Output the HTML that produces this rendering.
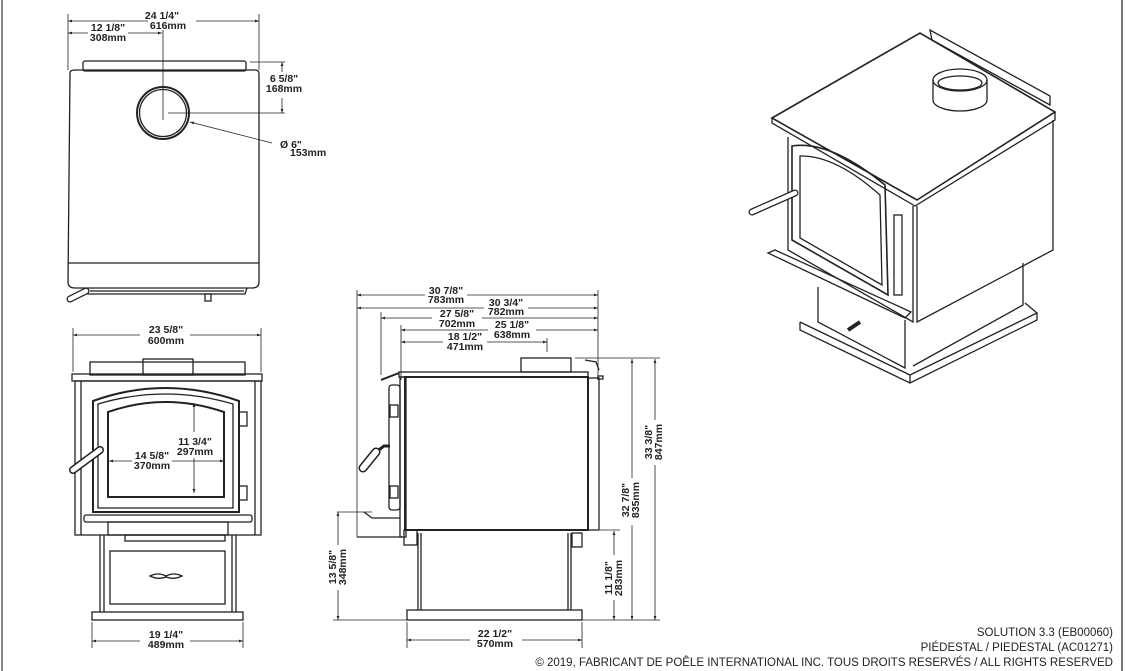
<!DOCTYPE html>
<html><head><meta charset="utf-8"><style>
html,body{margin:0;padding:0;background:#fff;}
svg{display:block}
text{font-family:"Liberation Sans",sans-serif;font-weight:bold;font-size:10.5px;fill:#222;text-anchor:middle}
.t{font-weight:normal;font-size:11.5px;text-anchor:end;fill:#222}
</style></head><body>
<svg width="1125" height="671" viewBox="0 0 1125 671" xmlns="http://www.w3.org/2000/svg">
<defs>
<marker id="a" viewBox="0 0 10 10" refX="10" refY="5" markerWidth="7" markerHeight="5" orient="auto-start-reverse"><path d="M0,1.5L10,5L0,8.5z" fill="#222"/></marker>
</defs>
<rect x="1" y="0" width="2" height="671" fill="#888"/>
<rect x="1121" y="0" width="2" height="671" fill="#777"/>
<g fill="none" stroke="#222" stroke-width="1.3">
<!-- TOP VIEW -->
<line x1="68" y1="14" x2="68" y2="70" stroke-width="0.8"/>
<line x1="259" y1="14" x2="259" y2="70" stroke-width="0.8"/>
<line x1="68" y1="21" x2="148" y2="21" stroke-width="0.8" marker-start="url(#a)"/>
<line x1="196" y1="21" x2="259" y2="21" stroke-width="0.8" marker-end="url(#a)"/>
<line x1="68" y1="33" x2="88" y2="33" stroke-width="0.8" marker-start="url(#a)"/>
<line x1="128" y1="33" x2="162" y2="33" stroke-width="0.8" marker-end="url(#a)"/>
<line x1="163" y1="30" x2="163" y2="120" stroke-width="0.8"/>
<rect x="83" y="61" width="163" height="10" rx="2"/>
<path d="M70,73 Q70,70 75,70 L255,70 Q259,70 259,74 L259,282 Q259,288 252,288 L75,288 Q68,288 68,282 Z"/>
<line x1="68" y1="263" x2="259" y2="263"/>
<path d="M85,288 L88,294 L245,294 L247,288"/>
<line x1="90" y1="291" x2="244" y2="291"/>
<path d="M70,299 L86,291" stroke-width="7" stroke-linecap="round"/>
<path d="M70,299 L86,291" stroke-width="4.5" stroke="#fff" stroke-linecap="round"/>
<rect x="205" y="294" width="6" height="7"/>
<circle cx="163" cy="113" r="26" stroke-width="2"/>
<circle cx="163" cy="113" r="23.5"/>
<line x1="168" y1="113" x2="285" y2="113" stroke-width="0.8"/>
<line x1="250" y1="62" x2="285" y2="62" stroke-width="0.8"/>
<line x1="282" y1="72" x2="282" y2="62" stroke-width="0.8" marker-end="url(#a)"/>
<line x1="282" y1="98" x2="282" y2="113" stroke-width="0.8" marker-end="url(#a)"/>
<line x1="272" y1="143" x2="190" y2="122" stroke-width="0.8" marker-end="url(#a)"/>
<!-- FRONT VIEW -->
<line x1="73" y1="328" x2="73" y2="372" stroke-width="0.8"/>
<line x1="261" y1="328" x2="261" y2="372" stroke-width="0.8"/>
<line x1="73" y1="335" x2="140" y2="335" stroke-width="0.8" marker-start="url(#a)"/>
<line x1="190" y1="335" x2="261" y2="335" stroke-width="0.8" marker-end="url(#a)"/>
<rect x="90" y="362" width="155" height="13"/>
<rect x="143" y="359" width="50" height="16"/>
<rect x="72" y="374" width="190" height="7"/>
<rect x="75" y="381" width="186" height="154"/>
<line x1="81" y1="381" x2="81" y2="535"/><line x1="255" y1="381" x2="255" y2="535"/>
<path d="M93,512 L93,401 Q165,375 239,401 L239,512 Z" stroke-width="2"/>
<path d="M98,508 L98,404 Q165,384 233,404 L233,508 Z"/>
<path d="M108,497 L108,412 Q165,392 224,412 L224,497 Z" stroke-width="2"/>
<rect x="239" y="412" width="8" height="14"/><rect x="239" y="486" width="8" height="14"/>
<path d="M73,470 L100,450" stroke-width="8" stroke-linecap="round"/>
<path d="M73,470 L100,450" stroke-width="5" stroke="#fff" stroke-linecap="round"/>
<rect x="84" y="515" width="168" height="7" rx="2"/>
<rect x="108" y="522" width="120" height="13"/>
<rect x="125" y="535" width="100" height="6"/>
<line x1="100" y1="535" x2="100" y2="612"/><line x1="104" y1="535" x2="104" y2="612"/>
<line x1="232" y1="535" x2="232" y2="612"/><line x1="236" y1="535" x2="236" y2="612"/>
<rect x="110" y="551" width="115" height="53"/>
<path d="M150,576 Q158,572 166,576 Q174,572 182,576 Q174,580 166,577 Q158,580 150,576z"/>
<rect x="92" y="612" width="151" height="8"/>
<line x1="92" y1="622" x2="92" y2="648" stroke-width="0.8"/>
<line x1="243" y1="622" x2="243" y2="648" stroke-width="0.8"/>
<line x1="92" y1="641" x2="140" y2="641" stroke-width="0.8" marker-start="url(#a)"/>
<line x1="190" y1="641" x2="243" y2="641" stroke-width="0.8" marker-end="url(#a)"/>
<line x1="194" y1="403" x2="194" y2="432" stroke-width="0.8" marker-start="url(#a)"/>
<line x1="194" y1="458" x2="194" y2="493" stroke-width="0.8" marker-end="url(#a)"/>
<line x1="109" y1="461" x2="132" y2="461" stroke-width="0.8" marker-start="url(#a)"/>
<line x1="172" y1="461" x2="224" y2="461" stroke-width="0.8" marker-end="url(#a)"/>
<!-- SIDE VIEW -->
<line x1="357" y1="290" x2="357" y2="537" stroke-width="0.8"/>
<line x1="598" y1="290" x2="598" y2="380" stroke-width="0.8"/>
<line x1="381" y1="312" x2="381" y2="375" stroke-width="0.8"/>
<line x1="401" y1="325" x2="401" y2="380" stroke-width="0.8"/>
<line x1="547" y1="338" x2="547" y2="352" stroke-width="0.8"/>
<line x1="357" y1="295" x2="425" y2="295" stroke-width="0.8" marker-start="url(#a)"/>
<line x1="467" y1="295" x2="598" y2="295" stroke-width="0.8" marker-end="url(#a)"/>
<line x1="357" y1="308" x2="484" y2="308" stroke-width="0.8" marker-start="url(#a)"/>
<line x1="528" y1="308" x2="598" y2="308" stroke-width="0.8" marker-end="url(#a)"/>
<line x1="381" y1="318" x2="432" y2="318" stroke-width="0.8" marker-start="url(#a)"/>
<line x1="482" y1="318" x2="598" y2="318" stroke-width="0.8" marker-end="url(#a)"/>
<line x1="401" y1="330" x2="488" y2="330" stroke-width="0.8" marker-start="url(#a)"/>
<line x1="536" y1="330" x2="598" y2="330" stroke-width="0.8" marker-end="url(#a)"/>
<line x1="401" y1="342" x2="443" y2="342" stroke-width="0.8" marker-start="url(#a)"/>
<line x1="487" y1="342" x2="547" y2="342" stroke-width="0.8" marker-end="url(#a)"/>
<rect x="521" y="358" width="50" height="14"/>
<path d="M585,360 L596,362 L599,370"/>
<rect x="399" y="372" width="189" height="5"/>
<path d="M381,380 L399,373" stroke-width="2"/>
<rect x="405" y="377" width="183" height="153" stroke-width="2"/>
<rect x="588" y="378" width="11" height="152"/>
<rect x="598" y="376" width="5" height="3"/>
<rect x="400" y="377" width="6" height="160"/>
<rect x="389" y="385" width="11" height="125" rx="3"/>
<rect x="390" y="405" width="8" height="12"/><rect x="390" y="486" width="8" height="12"/>
<path d="M376,452 L384,446 L390,446" stroke-width="3"/>
<path d="M363,468 L376,452" stroke-width="9" stroke-linecap="round"/>
<path d="M363,468 L376,452" stroke-width="6" stroke="#fff" stroke-linecap="round"/>
<path d="M364,512 L372,518 L400,518" />
<line x1="357" y1="537" x2="402" y2="537"/>
<rect x="404" y="530" width="13" height="15"/>
<line x1="418" y1="533" x2="418" y2="610"/><line x1="421" y1="533" x2="421" y2="610"/>
<line x1="568" y1="533" x2="568" y2="610"/><line x1="571" y1="533" x2="571" y2="610"/>
<rect x="572" y="533" width="10" height="14"/>
<rect x="407" y="610" width="175" height="10"/>
<line x1="337" y1="512" x2="372" y2="512" stroke-width="0.8"/>
<line x1="333" y1="620" x2="407" y2="620" stroke-width="0.8"/>
<line x1="338" y1="512" x2="338" y2="545" stroke-width="0.8" marker-start="url(#a)"/>
<line x1="338" y1="590" x2="338" y2="620" stroke-width="0.8" marker-end="url(#a)"/>
<line x1="582" y1="620" x2="660" y2="620" stroke-width="0.8"/>
<line x1="600" y1="530" x2="620" y2="530" stroke-width="0.8"/>
<line x1="575" y1="358" x2="660" y2="358" stroke-width="0.8"/>
<line x1="614" y1="531" x2="614" y2="555" stroke-width="0.8" marker-start="url(#a)"/>
<line x1="614" y1="600" x2="614" y2="620" stroke-width="0.8" marker-end="url(#a)"/>
<line x1="632" y1="359" x2="632" y2="478" stroke-width="0.8" marker-start="url(#a)"/>
<line x1="632" y1="525" x2="632" y2="620" stroke-width="0.8" marker-end="url(#a)"/>
<line x1="655" y1="359" x2="655" y2="420" stroke-width="0.8" marker-start="url(#a)"/>
<line x1="655" y1="465" x2="655" y2="620" stroke-width="0.8" marker-end="url(#a)"/>
<line x1="407" y1="622" x2="407" y2="648" stroke-width="0.8"/>
<line x1="582" y1="622" x2="582" y2="648" stroke-width="0.8"/>
<line x1="407" y1="640" x2="470" y2="640" stroke-width="0.8" marker-start="url(#a)"/>
<line x1="522" y1="640" x2="582" y2="640" stroke-width="0.8" marker-end="url(#a)"/>
<!-- ISO VIEW -->
<path d="M772,118 L920,33 L1055,112 L917,200 Z" stroke-width="1.6"/>
<path d="M772,118 L772,123 L915,206 L1055,120 L1055,112"/>
<path d="M930,30 L932,40 L1050,105 L1050,96 Z"/>
<path d="M917,206 L917,322 L1053,250 L1053,120"/>
<path d="M788,137 L788,250 L913,322 L913,206"/>
<path d="M792,146 Q830,140 885,185 L888,295 L792,240 Z" stroke-width="1.6"/>
<path d="M800,156 Q835,155 880,195 L882,285 L800,238 Z"/>
<rect x="894" y="215" width="8" height="80"/>
<path d="M768,253 L775,250 L911,312 L905,318 Z"/>
<path d="M752,212 L795,193" stroke-width="7" stroke-linecap="round"/>
<path d="M752,212 L795,193" stroke-width="4.5" stroke="#fff" stroke-linecap="round"/>
<path d="M818,287 L818,322 L905,368 L905,320"/>
<path d="M1023,263 L1023,305 L913,366"/>
<path d="M800,322 L910,375 L1037,313 L1025,303 M800,322 L800,330 L910,383 L1037,320 L1037,313 M910,375 L910,383"/>
<path d="M848,330 L860,322" stroke-width="4"/>
<ellipse cx="960" cy="80" rx="27" ry="11"/>
<path d="M933,80 L933,100 A27,11 0 0 0 987,100 L987,80"/>
<ellipse cx="960" cy="83" rx="22" ry="7"/>
</g>
<!-- labels -->
<text x="162" y="19">24 1/4"</text><text x="168" y="29">616mm</text>
<text x="108" y="31">12 1/8"</text><text x="108" y="41">308mm</text>
<text x="284" y="82">6 5/8"</text><text x="284" y="92">168mm</text>
<text x="280" y="148" style="text-anchor:start">Ø  6"</text><text x="290" y="156" style="text-anchor:start">153mm</text>
<text x="166" y="333">23 5/8"</text><text x="166" y="344">600mm</text>
<text x="195" y="445">11 3/4"</text><text x="195" y="455">297mm</text>
<text x="152" y="459">14 5/8"</text><text x="152" y="469">370mm</text>
<text x="166" y="638">19 1/4"</text><text x="166" y="648">489mm</text>
<text x="446" y="294">30 7/8"</text><text x="446" y="303">783mm</text>
<text x="506" y="306">30 3/4"</text><text x="506" y="315">782mm</text>
<text x="457" y="317">27 5/8"</text><text x="457" y="327">702mm</text>
<text x="512" y="328">25 1/8"</text><text x="512" y="338">638mm</text>
<text x="465" y="340">18 1/2"</text><text x="465" y="350">471mm</text>
<text x="495" y="637">22 1/2"</text><text x="495" y="647">570mm</text>
<text transform="translate(339,567) rotate(-90)" x="0" y="-3">13 5/8"</text>
<text transform="translate(339,567) rotate(-90)" x="0" y="7">348mm</text>
<text transform="translate(615,578) rotate(-90)" x="0" y="-3">11 1/8"</text>
<text transform="translate(615,578) rotate(-90)" x="0" y="7">283mm</text>
<text transform="translate(632,500) rotate(-90)" x="0" y="-3">32 7/8"</text>
<text transform="translate(632,500) rotate(-90)" x="0" y="7">835mm</text>
<text transform="translate(655,442) rotate(-90)" x="0" y="-3">33 3/8"</text>
<text transform="translate(655,442) rotate(-90)" x="0" y="7">847mm</text>
<text class="t" x="1113" y="636">SOLUTION 3.3 (EB00060)</text>
<text class="t" x="1113" y="651">PIÉDESTAL / PIEDESTAL  (AC01271)</text>
<text class="t" x="1113" y="666">© 2019, FABRICANT DE POÊLE INTERNATIONAL INC. TOUS DROITS RESERVÉS / ALL RIGHTS RESERVED</text>
</svg>
</body></html>
